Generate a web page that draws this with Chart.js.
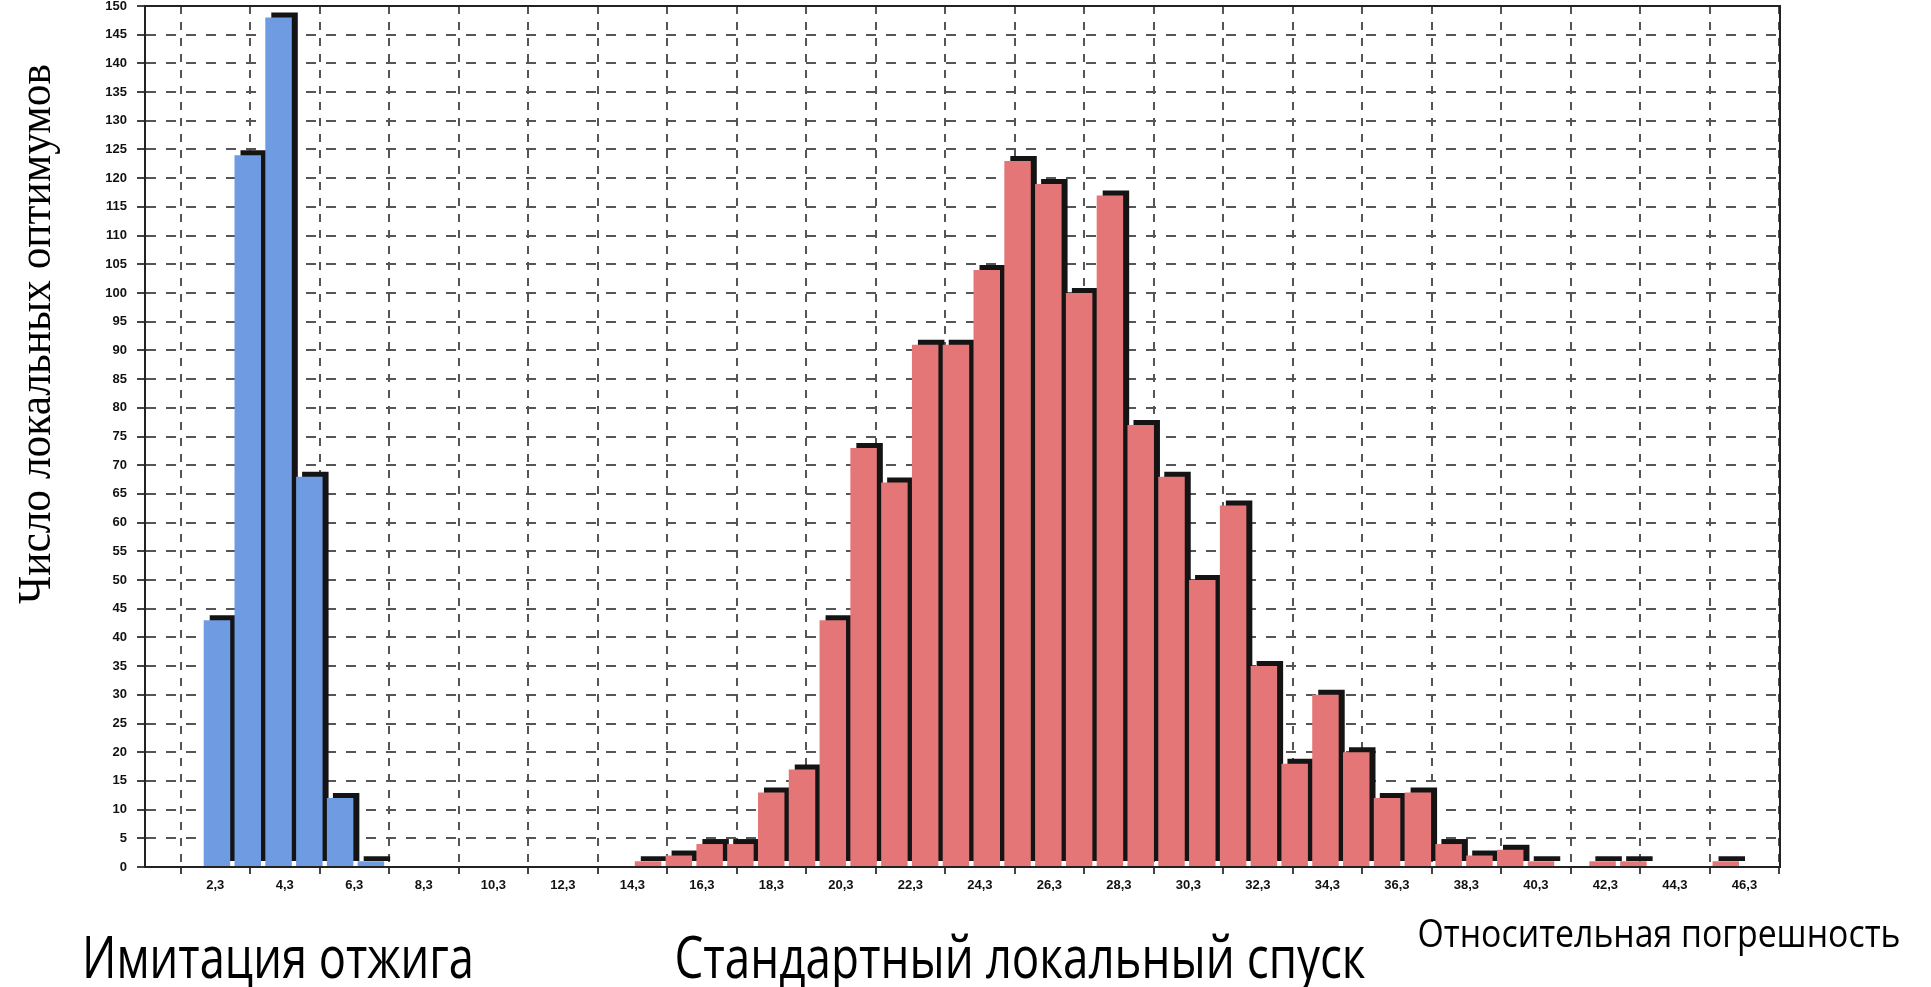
<!DOCTYPE html>
<html>
<head>
<meta charset="utf-8">
<script src="https://cdn.jsdelivr.net/npm/chart.js@4.4.1/dist/chart.umd.min.js"></script>
<style>
  html, body { margin: 0; padding: 0; background: #ffffff; }
  #wrap { width: 1931px; height: 987px; position: relative; }
  canvas { display: block; }
</style>
</head>
<body>
<div id="wrap"><canvas id="c" width="1931" height="987"></canvas></div>
<script>
// ---- data ----
const seriesNames = ['Имитация отжига', 'Стандартный локальный спуск'];
const xTitle = 'Относительная погрешность';
const yTitle = 'Число локальных оптимумов';

// bin centres (relative error) for each series
const annealingBins = [2.348, 3.234, 4.120, 5.006, 5.892, 6.778];
const annealingCounts = [43, 124, 148, 68, 12, 1];

const descentBins = [14.752, 15.638, 16.524, 17.410, 18.296, 19.182, 20.068, 20.954, 21.840,
  22.726, 23.612, 24.498, 25.384, 26.270, 27.156, 28.042, 28.928, 29.814, 30.700, 31.586,
  32.472, 33.358, 34.244, 35.130, 36.016, 36.902, 37.788, 38.674, 39.560, 40.446, 41.332,
  42.218, 43.104, 43.990, 44.876, 45.762];
const descentCounts = [1, 2, 4, 4, 13, 17, 43, 73, 67, 91, 91, 104, 123, 119, 100, 117, 77, 68,
  50, 63, 35, 18, 30, 20, 12, 13, 4, 2, 3, 1, 0, 1, 1, 0, 0, 1];

const xTickValues = [2.3, 4.3, 6.3, 8.3, 10.3, 12.3, 14.3, 16.3, 18.3, 20.3, 22.3, 24.3,
  26.3, 28.3, 30.3, 32.3, 34.3, 36.3, 38.3, 40.3, 42.3, 44.3, 46.3];
const xTickLabels = ['2,3', '4,3', '6,3', '8,3', '10,3', '12,3', '14,3', '16,3', '18,3', '20,3',
  '22,3', '24,3', '26,3', '28,3', '30,3', '32,3', '34,3', '36,3', '38,3', '40,3', '42,3', '44,3', '46,3'];

// ---- plugins ----
const barShadow = {
  id: 'barShadow',
  beforeDatasetDraw(chart) {
    const ctx = chart.ctx;
    ctx.save();
    ctx.shadowColor = 'rgba(20,20,20,1)';
    ctx.shadowOffsetX = 6;
    ctx.shadowOffsetY = -5;
    ctx.shadowBlur = 0;
  },
  afterDatasetDraw(chart) {
    chart.ctx.restore();
  }
};

function drawFitted(ctx, text, cx, cy, targetW, font, angle, baseline) {
  ctx.save();
  ctx.font = font;
  const w = ctx.measureText(text).width;
  const sx = targetW / w;
  ctx.translate(cx, cy);
  ctx.rotate(angle);
  ctx.scale(sx, 1);
  ctx.fillStyle = '#000';
  ctx.textAlign = 'center';
  ctx.textBaseline = baseline;
  ctx.fillText(text, 0, 0);
  ctx.restore();
}

const frameAndTexts = {
  id: 'frameAndTexts',
  afterDraw(chart) {
    const ctx = chart.ctx;
    const a = chart.chartArea;
    ctx.save();
    ctx.strokeStyle = '#222';
    ctx.lineWidth = 2;
    ctx.strokeRect(a.left, a.top, a.right - a.left, a.bottom - a.top);
    ctx.restore();

    drawFitted(ctx, yTitle, 38, 334, 540, '46px "Liberation Serif"', -Math.PI / 2, 'middle');
    drawFitted(ctx, seriesNames[0], 278, 978, 392, '58px "Open Sans"', 0, 'alphabetic');
    drawFitted(ctx, seriesNames[1], 1020, 978, 691, '58px "Open Sans"', 0, 'alphabetic');
    drawFitted(ctx, xTitle, 1659, 947, 483, '38px "Open Sans"', 0, 'alphabetic');
  }
};

// ---- chart ----
const toPoints = (xs, ys) => ys.map((y, i) => ({ x: xs[i], y: y }));

new Chart(document.getElementById('c'), {
  type: 'bar',
  data: {
    datasets: [
      {
        label: seriesNames[0],
        data: toPoints(annealingBins, annealingCounts),
        backgroundColor: '#6e9be2',
        borderWidth: 0,
        grouped: false,
        barPercentage: 0.86,
        categoryPercentage: 1.0
      },
      {
        label: seriesNames[1],
        data: toPoints(descentBins, descentCounts),
        backgroundColor: '#e47677',
        borderWidth: 0,
        grouped: false,
        barPercentage: 0.86,
        categoryPercentage: 1.0
      }
    ]
  },
  options: {
    responsive: false,
    devicePixelRatio: 1,
    animation: false,
    layout: { padding: { left: 0, right: 151, top: 6, bottom: 0 } },
    plugins: { legend: { display: false }, tooltip: { enabled: false } },
    scales: {
      x: {
        type: 'linear',
        min: 1.3,
        max: 46.3,
        afterFit(s) { s.height = 120; s.paddingLeft = 0; s.paddingRight = 0; },
        afterBuildTicks(s) { s.ticks = xTickValues.map(v => ({ value: v })); },
        ticks: {
          autoSkip: false,
          maxRotation: 0,
          padding: 4,
          color: '#111',
          font: { family: 'Liberation Sans', size: 13, weight: 'bold' },
          callback: (v, i) => xTickLabels[i]
        },
        grid: { color: '#555', lineWidth: 2, tickLength: 7, tickColor: '#444', tickWidth: 2 },
        border: { display: true, color: '#222', width: 2, dash: [8, 8] }
      },
      y: {
        min: 0,
        max: 150,
        afterFit(s) { s.width = 145; s.paddingTop = 0; s.paddingBottom = 0; },
        ticks: {
          stepSize: 5,
          padding: 10,
          color: '#111',
          font: { family: 'Liberation Sans', size: 13, weight: 'bold', lineHeight: 1 }
        },
        grid: { color: '#555', lineWidth: 2, tickLength: 8, tickColor: '#444', tickWidth: 2 },
        border: { display: true, color: '#222', width: 2, dash: [10, 10] }
      }
    }
  },
  plugins: [barShadow, frameAndTexts]
});
</script>
</body>
</html>
